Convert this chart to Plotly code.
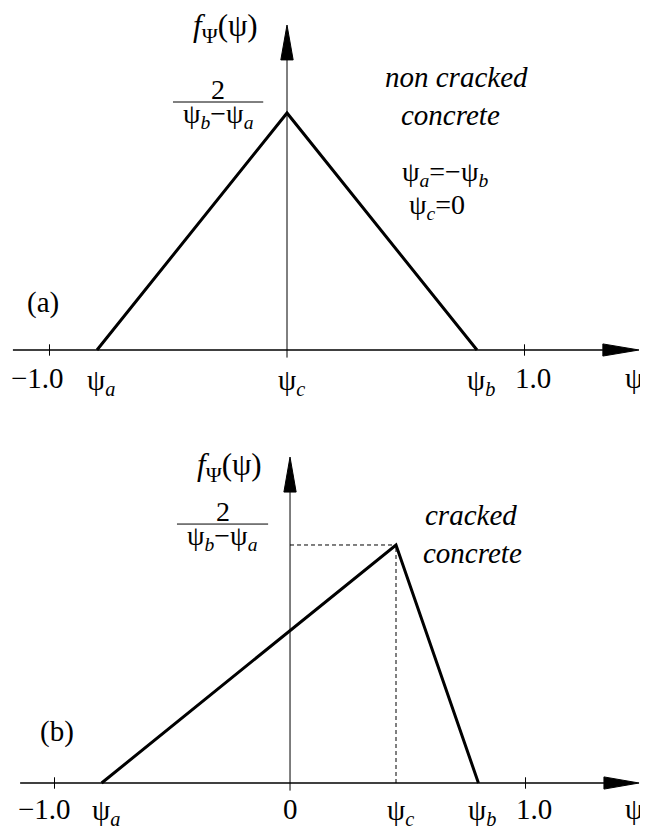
import plotly.graph_objects as go

# triangular pdf of psi, (a) non cracked, (b) cracked concrete
psi_a = [-0.8, 0.0, 0.8]
f_a = [0.0, 1.25, 0.0]
psi_b = [-0.8, 0.45, 0.8]
f_b = [0.0, 1.25, 0.0]
tick_vals = [-1.0, 1.0]
tick_text = ["\u22121.0", "1.0"]

FONT = "Liberation Serif"
FS = 29

fig = go.Figure()
fig.add_trace(go.Scatter(x=psi_a, y=f_a, mode="lines", line=dict(color="black", width=3),
                         xaxis="x", yaxis="y", showlegend=False, hoverinfo="skip"))
fig.add_trace(go.Scatter(x=psi_b, y=f_b, mode="lines", line=dict(color="black", width=3),
                         xaxis="x2", yaxis="y2", showlegend=False, hoverinfo="skip"))

shapes = []
annots = []


def txt(s, x, y, xr, yr, size=FS, xshift=0, yshift=0):
    annots.append(dict(text=s, x=x, y=y, xref=xr, yref=yr, showarrow=False,
                       font=dict(family=FONT, size=size, color="black"),
                       xanchor="center", yanchor="middle", xshift=xshift, yshift=yshift))


def axes(xr, yr, xstart, xbase, xtip, ybase, ytip, hx, hy):
    # horizontal axis + arrow
    shapes.append(dict(type="line", xref=xr, yref=yr, x0=xstart, x1=xbase, y0=0, y1=0,
                       line=dict(color="black", width=1.5)))
    shapes.append(dict(type="path", xref=xr, yref=yr,
                       path=f"M {xbase},{-hy} L {xtip},0 L {xbase},{hy} Z",
                       fillcolor="black", line=dict(color="black", width=1)))
    # vertical axis + arrow
    shapes.append(dict(type="line", xref=xr, yref=yr, x0=0, x1=0, y0=-0.04, y1=ybase,
                       line=dict(color="black", width=1)))
    shapes.append(dict(type="path", xref=xr, yref=yr,
                       path=f"M {-hx},{ybase} L 0,{ytip} L {hx},{ybase} Z",
                       fillcolor="black", line=dict(color="black", width=1)))
    for t in tick_vals:
        shapes.append(dict(type="line", xref=xr, yref=yr, x0=t, x1=t, y0=-0.03, y1=0.03,
                           line=dict(color="black", width=1)))


def fraction(xr, yr, xl, xrt, yl):
    shapes.append(dict(type="line", xref=xr, yref=yr, x0=xl, x1=xrt, y0=yl, y1=yl,
                       line=dict(color="black", width=1)))
    xm = (xl + xrt) / 2
    txt("2", xm, yl, xr, yr, size=28, yshift=13)
    txt("ψ<sub><i>b</i></sub>\u2212ψ<sub><i>a</i></sub>", xm, yl, xr, yr, size=28, yshift=-13)


# ---- panel (a)
axes("x", "y", -1.154, 1.33, 1.482, 1.53, 1.714, 0.026, 0.032)
fraction("x", "y", -0.48, -0.10, 1.308)
txt("<i>f</i><sub>Ψ</sub>(ψ)", -0.26, 1.70, "x", "y", size=31)
txt("<i>non cracked</i>", 0.712, 1.44, "x", "y")
txt("<i>concrete</i>", 0.69, 1.24, "x", "y")
txt("ψ<sub><i>a</i></sub>=\u2212ψ<sub><i>b</i></sub>", 0.665, 0.93, "x", "y", size=28)
txt("ψ<sub><i>c</i></sub>=0", 0.63, 0.755, "x", "y", size=28)
txt("(a)", -1.027, 0.253, "x", "y")
txt(tick_text[0], -1.0, 0, "x", "y", xshift=-12, yshift=-28)
txt(tick_text[1], 1.0, 0, "x", "y", xshift=8, yshift=-28)
txt("ψ<sub><i>a</i></sub>", psi_a[0], 0, "x", "y", xshift=4, yshift=-32)
txt("ψ<sub><i>c</i></sub>", psi_a[1], 0, "x", "y", xshift=4, yshift=-32)
txt("ψ<sub><i>b</i></sub>", psi_a[2], 0, "x", "y", xshift=4, yshift=-32)
txt("ψ", 1.461, 0, "x", "y", yshift=-28)

# ---- panel (b)
axes("x2", "y2", -1.146, 1.333, 1.482, 1.528, 1.712, 0.026, 0.032)
fraction("x2", "y2", -0.48, -0.093, 1.36)
shapes.append(dict(type="line", xref="x2", yref="y2", x0=0, x1=psi_b[1], y0=f_b[1], y1=f_b[1],
                   line=dict(color="black", width=1, dash="4px,3px")))
shapes.append(dict(type="line", xref="x2", yref="y2", x0=psi_b[1], x1=psi_b[1], y0=0, y1=f_b[1],
                   line=dict(color="black", width=1, dash="4px,3px")))
txt("<i>f</i><sub>Ψ</sub>(ψ)", -0.255, 1.66, "x2", "y2", size=31)
txt("<i>cracked</i>", 0.77, 1.41, "x2", "y2")
txt("<i>concrete</i>", 0.773, 1.21, "x2", "y2")
txt("(b)", -0.99, 0.268, "x2", "y2")
txt(tick_text[0], -1.0, 0, "x2", "y2", xshift=-10, yshift=-26)
txt(tick_text[1], 1.0, 0, "x2", "y2", xshift=8, yshift=-26)
txt("0", 0.0, 0, "x2", "y2", yshift=-26)
txt("ψ<sub><i>a</i></sub>", psi_b[0], 0, "x2", "y2", xshift=4, yshift=-29)
txt("ψ<sub><i>c</i></sub>", psi_b[1], 0, "x2", "y2", xshift=4, yshift=-29)
txt("ψ<sub><i>b</i></sub>", psi_b[2], 0, "x2", "y2", xshift=4, yshift=-29)
txt("ψ", 1.461, 0, "x2", "y2", yshift=-26)

# page body has an 8px margin, so the figure is 8px smaller than the window
hidden = dict(visible=False, showgrid=False, zeroline=False, fixedrange=True)
fig.update_layout(
    width=640, height=823,
    margin=dict(l=0, r=0, t=0, b=0),
    paper_bgcolor="white", plot_bgcolor="white",
    xaxis=dict(domain=[0, 1], range=[-1.1747, 1.52], anchor="y", **hidden),
    yaxis=dict(domain=[0.5, 1], range=[-0.3666, 1.8038], anchor="x", **hidden),
    xaxis2=dict(domain=[0, 1], range=[-1.1975, 1.52], anchor="y2", **hidden),
    yaxis2=dict(domain=[0, 0.5], range=[-0.2521, 1.9091], anchor="x2", **hidden),
    shapes=shapes, annotations=annots,
    showlegend=False,
)

fig.write_html("out.html")
